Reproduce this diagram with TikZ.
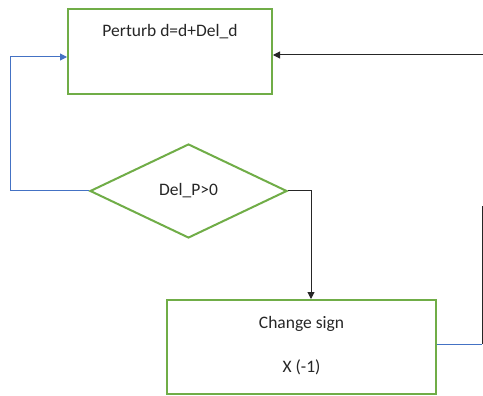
\documentclass[tikz,border=0pt]{standalone}
\usepackage{fontspec}
\setmainfont{Carlito}
\usetikzlibrary{shapes.geometric,arrows.meta}
\definecolor{boxgreen}{HTML}{70AD47}
\definecolor{linkblue}{HTML}{4472C4}
\tikzset{
  flowbox/.style={draw=boxgreen, line width=2pt, rectangle, inner sep=0pt},
  decision/.style={draw=boxgreen, line width=2pt, diamond, inner sep=0pt},
  boxtext/.style={font=\fontsize{17.5}{21}\selectfont, text=black!85},
  tip/.style={-{Triangle[length=7pt,width=7pt]}},
  blueline/.style={draw=linkblue, line width=1pt},
  darkline/.style={draw=black!85, line width=1pt}
}
\begin{document}
\begin{tikzpicture}[x=1pt,y=-1pt]
\useasboundingbox (0,0) rectangle (483,396);
\fill[white] (0,0) rectangle (483,396);

% process boxes and decision
\node[flowbox, minimum width=204pt, minimum height=85pt] (perturb) at (170,51.5) {};
\node[boxtext, anchor=base] (perturbtext) at (170,37) {Perturb d=d+Del\_d};

\node[decision, minimum width=197pt, minimum height=94pt] (test) at (188.5,191) {};
\node[boxtext] (testtext) at (188.5,191) {Del\_P>0};

\node[flowbox, minimum width=269pt, minimum height=94pt] (change) at (301.5,347) {};
\node[boxtext, anchor=base] (changetext) at (301.5,328) {Change sign};
\node[boxtext, anchor=base] (signtext) at (301.5,372) {X (-1)};

% loop-back path on the left
\coordinate (lowleft) at (10,191);
\coordinate (highleft) at (10,57);
\draw[blueline, tip] (test.west) -- (lowleft) -- (highleft) -- (highleft -| perturb.west);

% decision to change sign
\coordinate (rightturn) at (311,191);
\draw[darkline, tip] (test.east) -- (rightturn) -- (rightturn |- change.north);

% return path on the right
\coordinate (outright) at (482,344);
\coordinate (upright) at (482,206);
\draw[blueline] (change.east |- outright) -- (outright);
\draw[darkline] (outright) -- (upright);
\coordinate (topright) at (483,55);
\draw[darkline, tip] (topright) -- (topright -| perturb.east);
\end{tikzpicture}
\end{document}
